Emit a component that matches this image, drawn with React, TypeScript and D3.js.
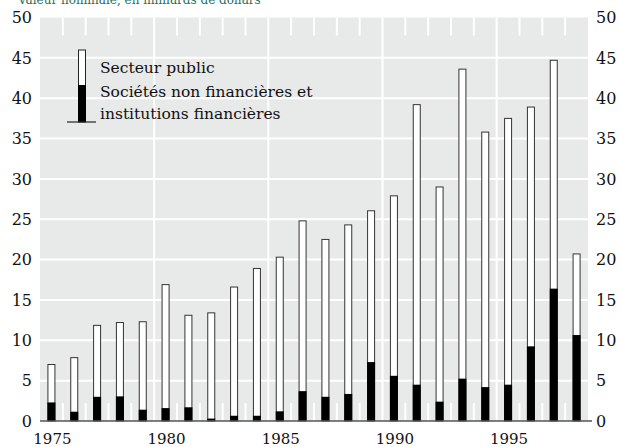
import React, { useEffect, useRef } from 'react';
import * as d3 from 'd3';

// years on the x axis
const years = d3.range(1975, 1999);
// total issuance (top of each bar), billions of dollars
const totals = [7.0, 7.85, 11.85, 12.2, 12.3, 16.9, 13.1, 13.4, 16.6, 18.9, 20.3, 24.8,
  22.5, 24.3, 26.05, 27.9, 39.2, 29.0, 43.6, 35.8, 37.5, 38.9, 44.7, 20.7];
// non-financial corporations & financial institutions (black part)
const corporates = [2.3, 1.15, 3.0, 3.05, 1.4, 1.6, 1.7, 0.3, 0.65, 0.65, 1.2, 3.7,
  3.0, 3.35, 7.3, 5.6, 4.5, 2.4, 5.25, 4.2, 4.5, 9.25, 16.4, 10.65];
const yTicks = [0, 5, 10, 15, 20, 25, 30, 35, 40, 45, 50];
const xTickYears = [1975, 1980, 1985, 1990, 1995];
const legendLabels = ['Secteur public', 'Sociétés non financières et', 'institutions financières'];
const subtitle = 'Valeur nominale, en milliards de dollars';

const W = 620;
const H = 447;
const FONT = 'DejaVu Serif, Liberation Serif, serif';

const App = () => {
  const svgRef = useRef<SVGSVGElement>(null);

  useEffect(() => {
    const svg = d3.select(svgRef.current);
    svg.selectAll('*').remove();

    const margin = { top: 17.5, right: 32, bottom: 26, left: 40 };
    const x = d3.scaleBand<number>().domain(years).range([margin.left, W - margin.right]).padding(0);
    const y = d3.scaleLinear().domain([0, 50]).range([H - margin.bottom, margin.top]);

    // subtitle, cut by the top of the picture as in the original
    svg.append('text')
      .attr('x', 18)
      .attr('y', 3.5)
      .attr('fill', '#2b6e5c')
      .attr('font-family', FONT)
      .attr('font-size', 12)
      .text(subtitle);

    // plot background
    svg.append('rect')
      .attr('x', margin.left)
      .attr('y', y(50))
      .attr('width', W - margin.right - margin.left)
      .attr('height', y(0) - y(50))
      .attr('fill', '#e8eaea');

    // horizontal grid
    svg.append('g')
      .selectAll('line')
      .data(yTicks.filter((d) => d > 0 && d < 50))
      .enter()
      .append('line')
      .attr('x1', margin.left)
      .attr('x2', W - margin.right)
      .attr('y1', (d) => y(d))
      .attr('y2', (d) => y(d))
      .attr('stroke', '#fff')
      .attr('stroke-width', 2);

    // small ticks between years, top and bottom; long lines every 5 years
    const g = svg.append('g');
    years.slice(1).forEach((yr) => {
      const bx = x(yr)!;
      if (xTickYears.includes(yr)) {
        g.append('line')
          .attr('x1', bx).attr('x2', bx)
          .attr('y1', y(50)).attr('y2', y(0))
          .attr('stroke', '#fff').attr('stroke-width', 2);
      } else {
        g.append('line')
          .attr('x1', bx).attr('x2', bx)
          .attr('y1', y(50)).attr('y2', y(50) + 18)
          .attr('stroke', '#fff').attr('stroke-width', 2);
        g.append('line')
          .attr('x1', bx).attr('x2', bx)
          .attr('y1', y(0) - 18).attr('y2', y(0))
          .attr('stroke', '#fff').attr('stroke-width', 2);
      }
    });

    // bars
    const bw = 7;
    const bars = svg.append('g');
    years.forEach((yr, i) => {
      const cx = x(yr)! + x.bandwidth() / 2;
      bars.append('rect')
        .attr('x', cx - bw / 2)
        .attr('y', y(totals[i]))
        .attr('width', bw)
        .attr('height', y(0) - y(totals[i]))
        .attr('fill', '#fff')
        .attr('stroke', '#333')
        .attr('stroke-width', 1);
      bars.append('rect')
        .attr('x', cx - bw / 2 - 0.5)
        .attr('y', y(corporates[i]))
        .attr('width', bw + 1)
        .attr('height', y(0) - y(corporates[i]))
        .attr('fill', '#000');
    });

    // baseline
    svg.append('line')
      .attr('x1', margin.left)
      .attr('x2', W - margin.right + 4)
      .attr('y1', y(0))
      .attr('y2', y(0))
      .attr('stroke', '#555')
      .attr('stroke-width', 1.5);

    // y labels, both sides
    const ty = svg.append('g').attr('font-family', FONT).attr('font-size', 16).attr('fill', '#111');
    ty.selectAll('.yl')
      .data(yTicks)
      .enter()
      .append('text')
      .attr('x', 32)
      .attr('y', (d) => y(d))
      .attr('dy', '0.36em')
      .attr('text-anchor', 'end')
      .text((d) => d);
    ty.selectAll('.yr')
      .data(yTicks)
      .enter()
      .append('text')
      .attr('x', 596)
      .attr('y', (d) => y(d))
      .attr('dy', '0.36em')
      .attr('text-anchor', 'start')
      .text((d) => d);

    // x labels
    svg.append('g')
      .attr('font-family', FONT)
      .attr('font-size', 15)
      .attr('fill', '#111')
      .selectAll('text')
      .data(xTickYears)
      .enter()
      .append('text')
      .attr('x', (d) => x(d)! + x.bandwidth() / 2 + 1)
      .attr('y', H - 3)
      .attr('text-anchor', 'middle')
      .text((d) => d);

    // legend
    const lg = svg.append('g');
    lg.append('rect').attr('x', 78.5).attr('y', 50).attr('width', 7).attr('height', 72)
      .attr('fill', '#fff').attr('stroke', '#222').attr('stroke-width', 1);
    lg.append('rect').attr('x', 78).attr('y', 85).attr('width', 8).attr('height', 37).attr('fill', '#000');
    lg.append('line').attr('x1', 67).attr('x2', 96).attr('y1', 122).attr('y2', 122)
      .attr('stroke', '#222').attr('stroke-width', 1.2);
    lg.selectAll('text')
      .data(legendLabels)
      .enter()
      .append('text')
      .attr('x', 100)
      .attr('y', (_, i) => [73, 97, 119][i])
      .attr('font-family', FONT)
      .attr('font-size', 15.5)
      .attr('fill', '#111')
      .text((d) => d);
  }, []);

  return (
    <svg
      ref={svgRef}
      width={W}
      height={H}
      style={{ position: 'absolute', left: 0, top: 0, background: '#fff' }}
    />
  );
};

export default App;
